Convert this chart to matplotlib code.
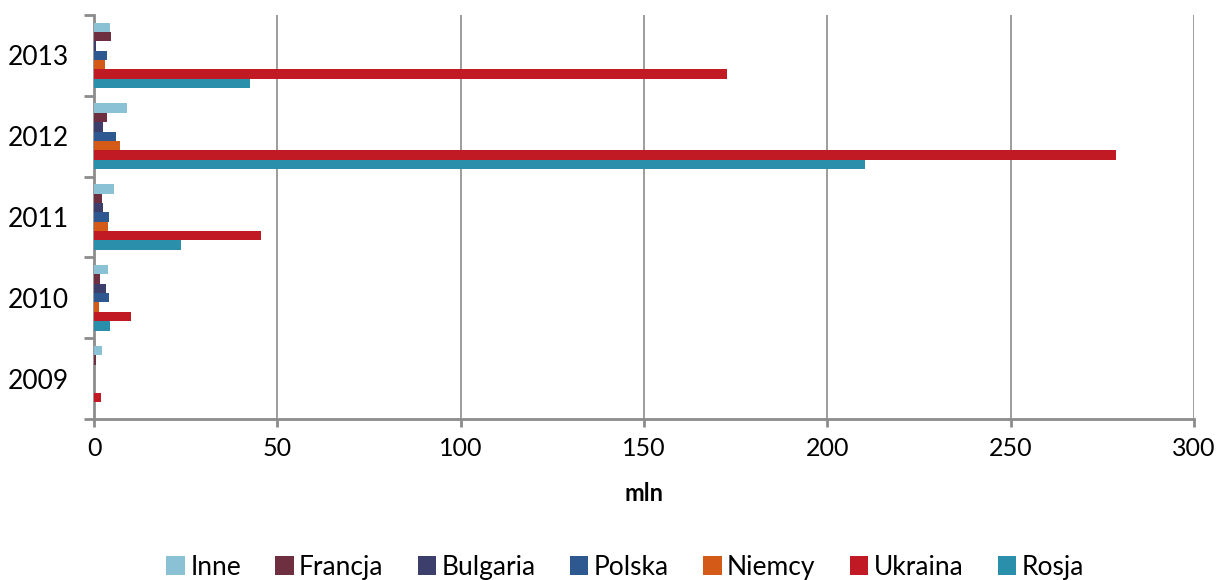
import numpy as np
import matplotlib.pyplot as plt
from matplotlib.ticker import FixedLocator

plt.rcParams['font.family'] = ['Lato', 'DejaVu Sans']

years = ['2009', '2010', '2011', '2012', '2013']
# values in mln, one list per country (2009..2013)
inne = [2.1, 3.8, 5.4, 9.1, 4.4]
francja = [0.5, 1.5, 2.3, 3.6, 4.5]
bulgaria = [0.0, 3.4, 2.4, 2.5, 0.5]
polska = [0.0, 4.0, 4.0, 5.9, 3.6]
niemcy = [0.0, 1.3, 3.7, 7.1, 3.1]
ukraina = [2.0, 10.0, 45.5, 278.8, 172.5]
rosja = [0.0, 4.3, 23.8, 210.4, 42.5]

names = ['Inne', 'Francja', 'Bulgaria', 'Polska', 'Niemcy', 'Ukraina', 'Rosja']
series = [inne, francja, bulgaria, polska, niemcy, ukraina, rosja]
colors = ['#8bc1d4', '#6e3040', '#3c3f6b', '#2e5890', '#d45a18', '#c21a24', '#2a8faa']

fig = plt.figure(figsize=(12.16, 5.8), dpi=100)
ax = fig.add_axes([94 / 1216, 1 - 419 / 580, 1100 / 1216, 404 / 580])

y = np.arange(len(years))
h = 0.116
for i, (name, vals, c) in enumerate(zip(names, series, colors)):
    # Inne on top of each group, Rosja at the bottom
    off = (3 - i) * h
    ax.barh(y + off, vals, height=h, color=c, label=name, zorder=3)

ax.set_xlim(0, 300)
ax.set_ylim(-0.5, len(years) - 0.5)
ax.set_xticks(np.arange(0, 301, 50))
ax.set_yticks(y)
ax.set_yticklabels(years)
ax.yaxis.set_minor_locator(FixedLocator(np.arange(-0.5, len(years), 1)))
ax.tick_params(axis='y', which='major', length=0, pad=18, labelsize=19)
ax.tick_params(axis='y', which='minor', length=7, width=2, color='#8c8c8c')
ax.tick_params(axis='x', length=6, width=2, color='#8c8c8c', labelsize=18, pad=7)

ax.grid(axis='x', color='#8c8c8c', linewidth=1.2, zorder=0)
for s in ['top', 'right']:
    ax.spines[s].set_visible(False)
for s in ['left', 'bottom']:
    ax.spines[s].set_color('#8c8c8c')
    ax.spines[s].set_linewidth(2)

ax.set_xlabel('mln', fontsize=17, fontweight='bold', labelpad=16)

handles, labels = ax.get_legend_handles_labels()
fig.legend(handles, labels, loc='center', bbox_to_anchor=(0.514, 0.022),
           ncol=7, frameon=False, fontsize=19, handlelength=0.7,
           handleheight=0.7, handletextpad=0.2, columnspacing=1.3)

fig.savefig('out.png', dpi=100)
